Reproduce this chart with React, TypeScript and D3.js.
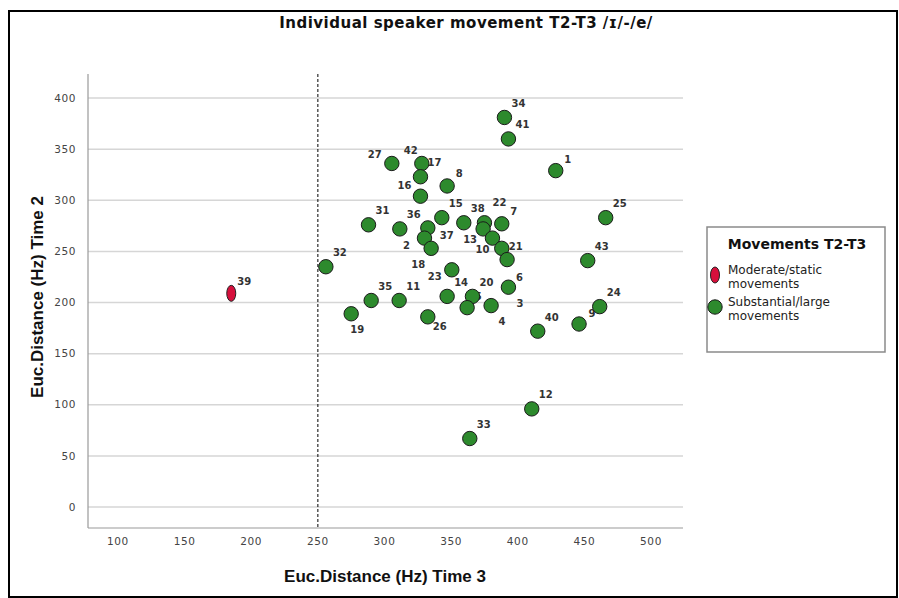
import React from "react";
import * as d3 from "d3";

// ---- data ----
const speakerIds = [34, 41, 1, 27, 42, 17, 16, 8, 31, 36, 37, 2, 18, 15, 38, 22, 13, 7, 10, 21, 3, 25, 43, 32, 23, 14, 20, 5, 4, 6, 40, 9, 24, 35, 11, 19, 26, 12, 33, 39];
const time3 = [390, 393, 428.5, 305.5, 328, 327, 327, 347, 288, 311.5, 332.5, 330, 335, 343, 359.5, 375, 374, 388, 381, 388, 392, 466, 452.5, 256, 350.5, 347, 366, 362, 380, 393, 415, 446, 461.5, 290, 311, 275, 332.5, 410.5, 364, 185];
const time2 = [381, 360, 329, 336, 336, 323, 304, 314, 276, 272, 273, 263, 253, 283, 278, 278, 272, 277, 263, 253, 242, 283, 241, 235, 232, 206, 206, 195, 197, 215, 172, 179, 196, 202, 202, 189, 186, 96, 67, 209];
const movementGroup = speakerIds.map((id) => (id === 39 ? "Moderate" : "Substantial"));
const xTicks = [100, 150, 200, 250, 300, 350, 400, 450, 500];
const yTicks = [0, 50, 100, 150, 200, 250, 300, 350, 400];
const threshold = 250;

// label placement (layout only)
const labelOffsets: Record<number, [number, number]> = {
  1: [12, -11], 27: [-17, -9], 42: [-11, -13], 16: [-16, -11], 8: [12, -12],
  37: [19, 8], 2: [-18, 7], 18: [-13, 16], 22: [15, -20], 13: [-13, 11], 7: [12, -12],
  10: [-10, 11], 21: [14, -2], 3: [13, 44], 23: [-17, 7], 5: [11, -11], 4: [11, 16],
  6: [11, -10], 9: [13, -11], 19: [6, 16], 26: [12, 10], 39: [13, -12],
};

const W = 899, H = 598;
const left = 88, right = 683, top = 74, bottom = 528;

export default function App() {
  const x = d3.scaleLinear().domain([77.5, 524]).range([left, right]);
  const y = d3.scaleLinear().domain([-20.5, 423.5]).range([bottom, top]);
  const pts = speakerIds.map((id, i) => ({ id, t3: time3[i], t2: time2[i], g: movementGroup[i] }));
  const green = "#2d8a2d";
  const red = "#d6103c";
  const tickFont = "DejaVu Sans, sans-serif";
  return (
    <svg width={W} height={H} style={{ position: "absolute", left: 0, top: 0, background: "#fff" }}>
      <rect x={9} y={11} width={888} height={586} fill="#fff" stroke="#000" strokeWidth={2} />
      <text x={466} y={28} textAnchor="middle" fontFamily="DejaVu Sans, sans-serif" fontWeight="bold" fontSize={15} letterSpacing={0.5} fill="#111">
        Individual speaker movement T2-T3 /ɪ/-/e/
      </text>
      {yTicks.map((t) => (
        <g key={"y" + t}>
          <line x1={left} x2={right} y1={y(t)} y2={y(t)} stroke="#d6d6d6" strokeWidth={1.5} />
          <text x={left - 12} y={y(t)} dy="0.35em" textAnchor="end" fontFamily={tickFont} fontSize={10.5} fill="#444" letterSpacing={0.6}>
            {t}
          </text>
        </g>
      ))}
      {xTicks.map((t) => (
        <text key={"x" + t} x={x(t)} y={bottom + 17} textAnchor="middle" fontFamily={tickFont} fontSize={10.5} fill="#444" letterSpacing={0.6}>
          {t}
        </text>
      ))}
      <line x1={left} x2={left} y1={top} y2={bottom} stroke="#999" strokeWidth={1.2} />
      <line x1={left} x2={right} y1={bottom} y2={bottom} stroke="#999" strokeWidth={1.2} />
      <line x1={x(threshold)} x2={x(threshold)} y1={top} y2={bottom} stroke="#000" strokeWidth={1} strokeDasharray="3,2" />
      <text x={385} y={582} textAnchor="middle" fontFamily="Liberation Sans, Arial, sans-serif" fontWeight="bold" fontSize={17} fill="#111">
        Euc.Distance (Hz) Time 3
      </text>
      <text transform={`translate(43,297) rotate(-90)`} textAnchor="middle" fontFamily="Liberation Sans, Arial, sans-serif" fontWeight="bold" fontSize={17} fill="#111">
        Euc.Distance (Hz) Time 2
      </text>
      {pts.map((p) => {
        const off = labelOffsets[p.id] || [14, -14];
        return (
          <text key={"l" + p.id} x={x(p.t3) + off[0]} y={y(p.t2) + off[1]} dy="0.35em" textAnchor="middle" fontFamily="DejaVu Sans, sans-serif" fontWeight="bold" fontSize={10} fill="#333">
            {p.id}
          </text>
        );
      })}
      {pts.map((p) =>
        p.g === "Moderate" ? (
          <ellipse key={"p" + p.id} cx={x(p.t3)} cy={y(p.t2)} rx={4.5} ry={8} fill={red} stroke="#222" strokeWidth={1} />
        ) : (
          <circle key={"p" + p.id} cx={x(p.t3)} cy={y(p.t2)} r={7.2} fill={green} stroke="#1a1a1a" strokeWidth={1} />
        )
      )}
      <rect x={707} y={227} width={178} height={125} fill="#fff" stroke="#8a8a8a" strokeWidth={1.5} />
      <text x={797} y={249} textAnchor="middle" fontFamily="DejaVu Sans, sans-serif" fontWeight="bold" fontSize={14} fill="#111">
        Movements T2-T3
      </text>
      <ellipse cx={715} cy={275} rx={4.5} ry={8} fill={red} stroke="#222" strokeWidth={1} />
      <text x={728} y={274} fontFamily="DejaVu Sans, sans-serif" fontSize={12} fill="#222">Moderate/static</text>
      <text x={728} y={288} fontFamily="DejaVu Sans, sans-serif" fontSize={12} fill="#222">movements</text>
      <circle cx={715} cy={307} r={7.2} fill={green} stroke="#1a1a1a" strokeWidth={1} />
      <text x={728} y={306} fontFamily="DejaVu Sans, sans-serif" fontSize={12} fill="#222">Substantial/large</text>
      <text x={728} y={320} fontFamily="DejaVu Sans, sans-serif" fontSize={12} fill="#222">movements</text>
    </svg>
  );
}
